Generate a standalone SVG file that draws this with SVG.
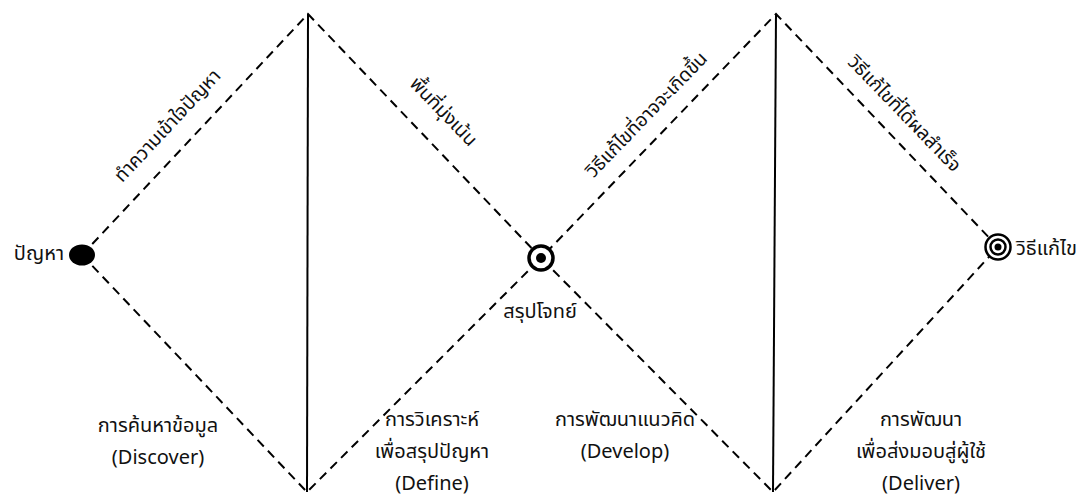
<svg xmlns="http://www.w3.org/2000/svg" width="1086" height="498" viewBox="0 0 1086 498">
<style>
.d{stroke:#000;stroke-width:2;stroke-dasharray:9,6;fill:none}
.s{stroke:#000;stroke-width:2;fill:none}
text{font-family:"Noto Sans Thai","Noto Sans","DejaVu Sans",sans-serif;font-size:20px;fill:#111}
.m{text-anchor:middle}
.r{font-size:19px}
</style>
<rect width="1086" height="498" fill="#fff"/>
<g id="connectors">
<path class="d" d="M82,255 L308,14 L541,258 L776,14 L998,247"/>
<path class="d" d="M82,255 L307,492 L541,258 L773,492 L998,247"/>
<line class="s" x1="308" y1="14" x2="307" y2="492"/>
<line class="s" x1="776" y1="14" x2="773" y2="492"/>
</g>
<g id="problem">
<ellipse cx="82" cy="255" rx="13" ry="10.5" fill="#000"/>
<text x="64" y="260" text-anchor="end">ปัญหา</text>
</g>
<g id="brief">
<circle cx="541" cy="258" r="12" fill="#fff" stroke="#000" stroke-width="3.5"/>
<circle cx="541" cy="258" r="5" fill="#000"/>
<text class="m" x="540" y="318">สรุปโจทย์</text>
</g>
<g id="solution">
<circle cx="998" cy="247" r="12.5" fill="#fff" stroke="#000" stroke-width="2.5"/>
<circle cx="998" cy="247" r="7.5" fill="#fff" stroke="#000" stroke-width="2.5"/>
<circle cx="998" cy="247" r="3.5" fill="#000"/>
<text x="1016" y="255">วิธีแก้ไข</text>
</g>
<g id="line-labels">
<text class="m r" transform="translate(172,130) rotate(-47)">ทำความเข้าใจปัญหา</text>
<text class="m r" transform="translate(439,116) rotate(46)">พื้นที่มุ่งเน้น</text>
<text class="m r" transform="translate(651,119) rotate(-46)">วิธีแก้ไขที่อาจจะเกิดขึ้น</text>
<text class="m r" transform="translate(900,118) rotate(46)">วิธีแก้ไขที่ได้ผลสำเร็จ</text>
</g>
<g id="discover">
<text class="m" x="158" y="432">การค้นหาข้อมูล</text>
<text class="m" x="158" y="464">(Discover)</text>
</g>
<g id="define">
<text class="m" x="432" y="426">การวิเคราะห์</text>
<text class="m" x="432" y="458">เพื่อสรุปปัญหา</text>
<text class="m" x="432" y="490">(Define)</text>
</g>
<g id="develop">
<text class="m" x="625" y="426">การพัฒนาแนวคิด</text>
<text class="m" x="625" y="458">(Develop)</text>
</g>
<g id="deliver">
<text class="m" x="921" y="426">การพัฒนา</text>
<text class="m" x="921" y="458">เพื่อส่งมอบสู่ผู้ใช้</text>
<text class="m" x="921" y="490">(Deliver)</text>
</g>
</svg>
